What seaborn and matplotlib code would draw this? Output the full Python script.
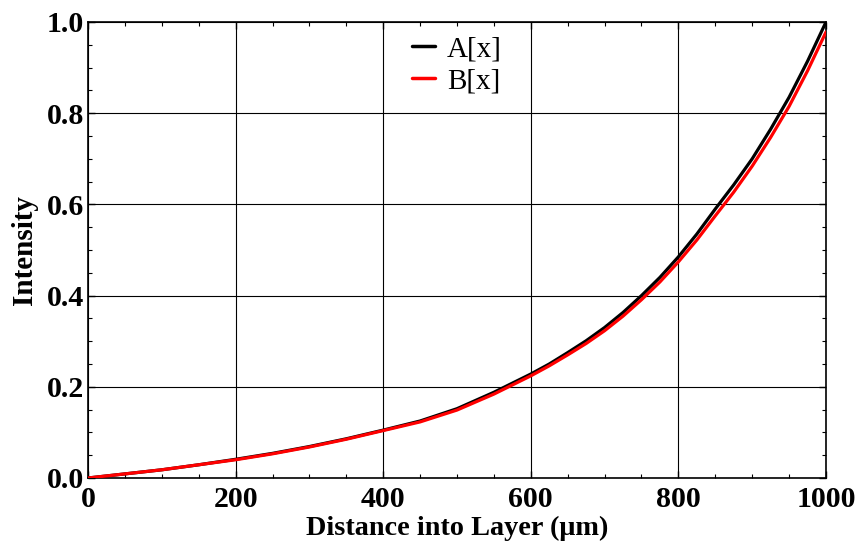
import numpy as np
import pandas as pd
import matplotlib
matplotlib.use("Agg")
import matplotlib.pyplot as plt
import seaborn as sns
from matplotlib.ticker import AutoMinorLocator

# Data
distance = [0, 50, 100, 150, 200, 250, 300, 350, 400, 450, 500, 550,
            600, 625, 650, 675, 700, 725, 750, 775, 800, 825, 850, 875,
            900, 925, 950, 975, 1000]
a_vals = [0.000, 0.009, 0.018, 0.029, 0.041, 0.054, 0.069, 0.086, 0.105, 0.125, 0.152, 0.188,
          0.228, 0.250, 0.275, 0.301, 0.330, 0.363, 0.400, 0.440, 0.485, 0.535, 0.590, 0.643,
          0.700, 0.765, 0.835, 0.914, 1.000]
b_vals = [0.000, 0.009, 0.018, 0.029, 0.040, 0.053, 0.068, 0.085, 0.104, 0.123, 0.149, 0.184,
          0.224, 0.246, 0.270, 0.295, 0.323, 0.355, 0.391, 0.430, 0.474, 0.522, 0.575, 0.627,
          0.684, 0.747, 0.815, 0.893, 0.978]
series_names = ["A[x]", "B[x]"]
x_ticks = [0, 200, 400, 600, 800, 1000]
y_ticks = [0.0, 0.2, 0.4, 0.6, 0.8, 1.0]

df = pd.concat([
    pd.DataFrame({"x": distance, "val": a_vals, "series": series_names[0]}),
    pd.DataFrame({"x": distance, "val": b_vals, "series": series_names[1]}),
], ignore_index=True)

sns.set_style("ticks")
plt.rcParams["font.family"] = ["Liberation Serif", "DejaVu Serif"]
plt.rcParams["text.color"] = "black"
plt.rcParams["axes.labelcolor"] = "black"
plt.rcParams["xtick.color"] = "black"
plt.rcParams["ytick.color"] = "black"

fig = plt.figure(figsize=(8.57, 5.47), dpi=100)
ax = fig.add_axes([88 / 857, 1 - 478 / 547, 738 / 857, 456 / 547])

sns.lineplot(data=df, x="x", y="val", hue="series", hue_order=series_names,
             palette={"A[x]": "black", "B[x]": "red"}, linewidth=2.3,
             ax=ax, zorder=3, estimator=None, sort=False)

ax.set_xlim(0, 1000)
ax.set_ylim(0, 1)
ax.set_xticks(x_ticks)
ax.set_yticks(y_ticks)
ax.set_xticklabels([str(t) for t in x_ticks])
ax.set_yticklabels([f"{t:.1f}" for t in y_ticks])
ax.xaxis.set_minor_locator(AutoMinorLocator(4))
ax.yaxis.set_minor_locator(AutoMinorLocator(4))
ax.tick_params(which="both", direction="in", top=True, right=True, color="black",
               labelcolor="black")
ax.tick_params(which="major", length=5, width=1.0, labelsize=21.5)
ax.tick_params(axis="x", which="major", pad=6)
ax.tick_params(axis="y", which="major", pad=3)
ax.tick_params(which="minor", length=3, width=0.8)
for lab in ax.get_xticklabels() + ax.get_yticklabels():
    lab.set_fontweight("bold")

ax.grid(True, which="major", color="black", linewidth=0.8)
ax.set_axisbelow(True)
for s in ax.spines.values():
    s.set_color("black")
    s.set_linewidth(1.2)

ax.set_xlabel("Distance into Layer (μm)", fontsize=20.3, fontweight="bold", labelpad=2,
              color="black")
ax.set_ylabel("Intensity", fontsize=21, fontweight="bold", labelpad=6, color="black")

leg = ax.legend(loc="center", bbox_to_anchor=(0.5, 0.905), frameon=False,
                fontsize=21, handlelength=0.8, handletextpad=0.4, labelspacing=0.2)
for line in leg.get_lines():
    line.set_linewidth(2.5)

fig.savefig("out.png", dpi=100)
